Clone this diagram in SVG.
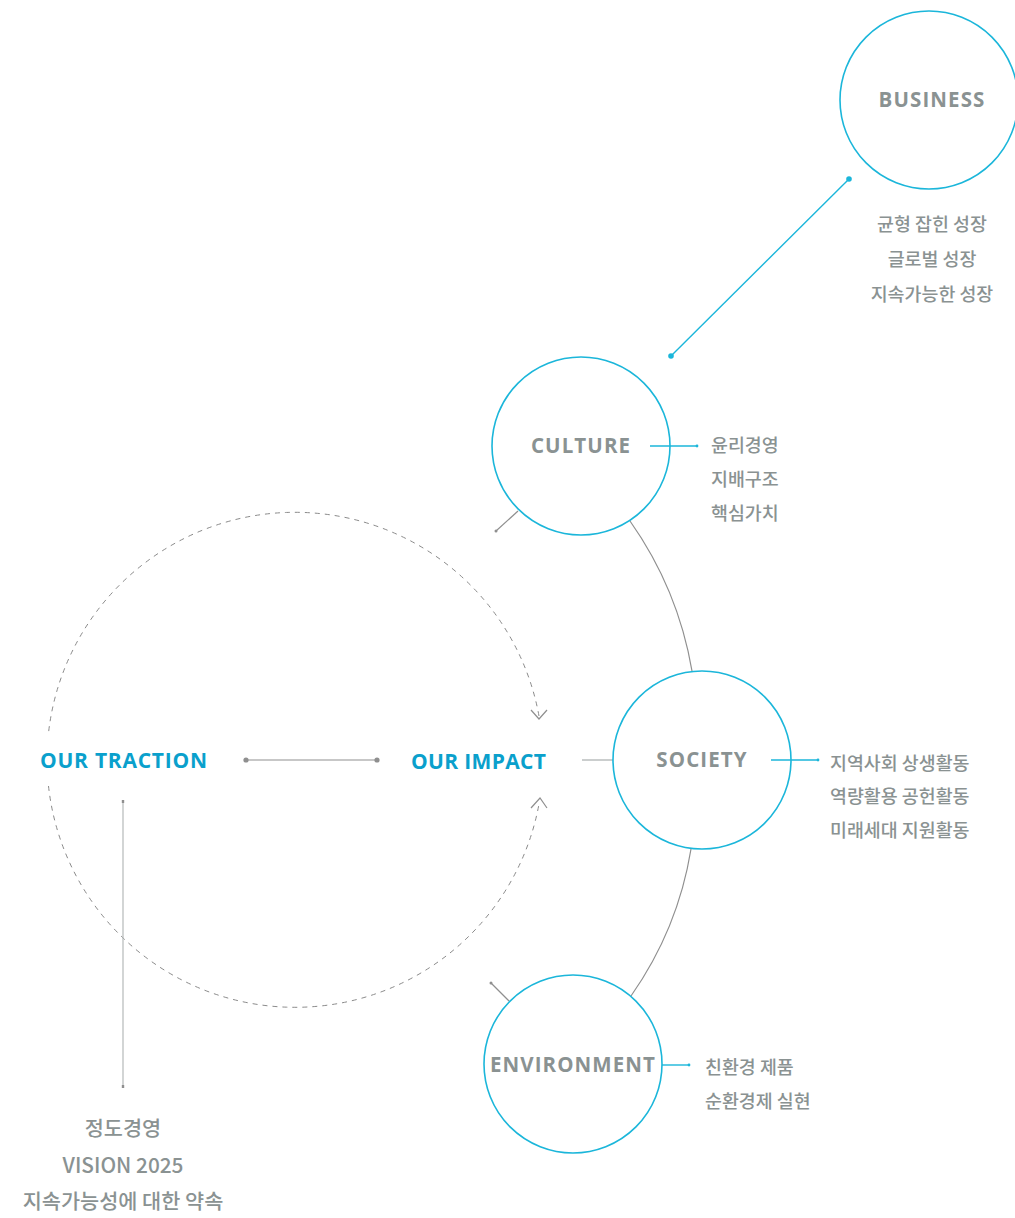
<svg xmlns="http://www.w3.org/2000/svg" width="1015" height="1218" viewBox="0 0 1015 1218">
<style>
.circ{fill:none;stroke:#1bb6da;stroke-width:1.6}
.ttl{font-family:"Open Sans","Lato","Liberation Sans",sans-serif;font-weight:700;font-size:20.5px;fill:#8a9292;letter-spacing:1.1px;text-anchor:middle}
.blue{font-family:"Open Sans","Lato","Liberation Sans",sans-serif;font-weight:700;font-size:21px;fill:#0aa0cc}
.kr{font-family:"Noto Sans CJK KR","Noto Sans",sans-serif;font-weight:500;font-size:18.4px;fill:#8a9292}
.kr2{font-family:"Noto Sans CJK KR","Noto Sans",sans-serif;font-weight:500;font-size:20.8px;fill:#8a9292;text-anchor:middle}
.gl{stroke:#8f8f8f;stroke-width:1.2;fill:none}
.bl{stroke:#1bb6da;stroke-width:1.4;fill:none}
.dash{stroke:#8a8a8a;stroke-width:1;fill:none;stroke-dasharray:5 5}
</style>
<g id="connectors">
<path class="dash" d="M539,716 A248,248 0 0 0 48.5,733"/>
<path class="dash" d="M48.5,786 A248,248 0 0 0 539,804"/>
<path class="gl" d="M531,710 L539,719 L547,710"/>
<path class="gl" d="M531,808 L540,798 L547,808"/>
<line class="gl" x1="246" y1="760" x2="377" y2="760" stroke-width="1.6"/>
<circle cx="246" cy="760" r="2.6" fill="#8f8f8f"/>
<circle cx="377" cy="760" r="2.6" fill="#8f8f8f"/>
<line x1="123" y1="801" x2="123" y2="1087" stroke="#b5b9b9" stroke-width="1.2"/>
<rect x="121.8" y="800" width="2.4" height="3" fill="#8f8f8f"/>
<rect x="121.8" y="1085" width="2.4" height="3" fill="#8f8f8f"/>
<line class="bl" x1="849" y1="179" x2="671" y2="356"/>
<circle cx="849" cy="179" r="2.8" fill="#1bb6da"/>
<circle cx="671" cy="356" r="2.8" fill="#1bb6da"/>
<line class="bl" x1="650" y1="446" x2="697" y2="446"/>
<circle cx="697" cy="446" r="1.4" fill="#1bb6da"/>
<line class="bl" x1="771" y1="760" x2="818" y2="760"/>
<circle cx="818" cy="760" r="1.4" fill="#1bb6da"/>
<line class="bl" x1="662" y1="1065" x2="689" y2="1065"/>
<circle cx="689" cy="1065" r="1.4" fill="#1bb6da"/>
<line class="gl" x1="518" y1="511" x2="496" y2="531"/>
<circle cx="496" cy="531" r="1.5" fill="#8f8f8f"/>
<line class="gl" x1="491" y1="983" x2="509" y2="1001"/>
<circle cx="491" cy="983" r="1.5" fill="#8f8f8f"/>
<path class="gl" d="M630,521 Q678,589 692,671"/>
<path class="gl" d="M691,849 Q678,929 631,996"/>
<line x1="582" y1="760" x2="613" y2="760" stroke="#a8adad" stroke-width="1.2"/>
</g>
<g id="business">
<circle class="circ" cx="929" cy="100" r="89"/>
<text class="ttl" x="932" y="107">BUSINESS</text>
<text class="kr" x="932" y="231" text-anchor="middle">균형 잡힌 성장</text>
<text class="kr" x="932" y="266" text-anchor="middle">글로벌 성장</text>
<text class="kr" x="932" y="301" text-anchor="middle">지속가능한 성장</text>
</g>
<g id="culture">
<circle class="circ" cx="581" cy="446" r="89"/>
<text class="ttl" x="581" y="453">CULTURE</text>
<text class="kr" x="711" y="452">윤리경영</text>
<text class="kr" x="711" y="486">지배구조</text>
<text class="kr" x="711" y="520">핵심가치</text>
</g>
<g id="society">
<circle class="circ" cx="702" cy="760" r="89"/>
<text class="ttl" x="702" y="767">SOCIETY</text>
<text class="kr" x="830" y="770">지역사회 상생활동</text>
<text class="kr" x="830" y="803">역량활용 공헌활동</text>
<text class="kr" x="830" y="837">미래세대 지원활동</text>
</g>
<g id="environment">
<circle class="circ" cx="573" cy="1064" r="89"/>
<text class="ttl" x="573" y="1072">ENVIRONMENT</text>
<text class="kr" x="705" y="1074">친환경 제품</text>
<text class="kr" x="705" y="1108">순환경제 실현</text>
</g>
<g id="our-traction">
<text class="blue" x="40" y="768" textLength="167">OUR TRACTION</text>
</g>
<g id="our-impact">
<text class="blue" x="411" y="769" textLength="135">OUR IMPACT</text>
</g>
<g id="bottom-text">
<text class="kr2" x="123" y="1136">정도경영</text>
<text class="kr2" x="123" y="1173">VISION 2025</text>
<text class="kr2" x="123" y="1209">지속가능성에 대한 약속</text>
</g>
</svg>
